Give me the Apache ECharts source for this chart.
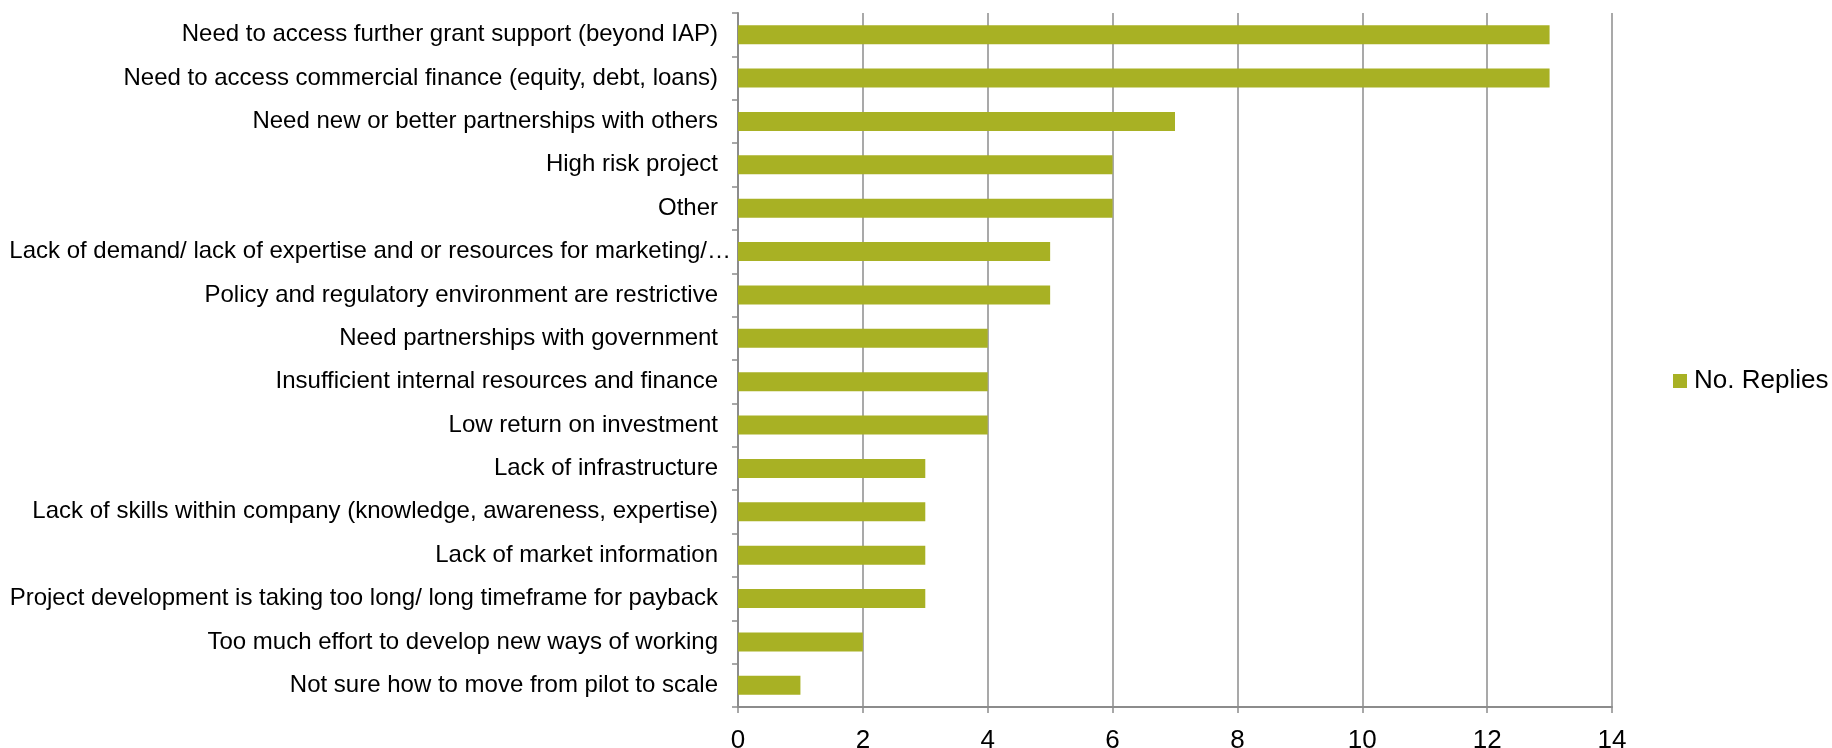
<!DOCTYPE html>
<html>
<head>
<meta charset="utf-8">
<script src="https://cdn.jsdelivr.net/npm/echarts@6/dist/echarts.min.js"></script>
<style>
  html, body { margin: 0; padding: 0; background: #fff; }
  #chart { width: 1832px; height: 748px; }
</style>
</head>
<body>
<div id="chart"></div>
<script>
// Barriers reported, listed top to bottom
const categories = [
  'Need to access further grant support (beyond IAP)',
  'Need to access commercial finance (equity, debt, loans)',
  'Need new or better partnerships with others',
  'High risk project',
  'Other',
  'Lack of demand/ lack of expertise and or resources for marketing/\u2026',
  'Policy and regulatory environment are restrictive',
  'Need partnerships with government',
  'Insufficient internal resources and finance',
  'Low return on investment',
  'Lack of infrastructure',
  'Lack of skills within company (knowledge, awareness, expertise)',
  'Lack of market information',
  'Project development is taking too long/ long timeframe for payback',
  'Too much effort to develop new ways of working',
  'Not sure how to move from pilot to scale'
];
const replies = [13, 13, 7, 6, 6, 5, 5, 4, 4, 4, 3, 3, 3, 3, 2, 1];
const seriesName = 'No. Replies';
const xTicks = { min: 0, max: 14, interval: 2 };

const chart = echarts.init(document.getElementById('chart'), null, { renderer: 'canvas' });
const FONT = '"Liberation Sans", Arial, sans-serif';
const AXIS_GREY = '#8c8c8c';
const BAR = '#a8b124';

// The truncated label runs right up to the axis line
const yData = categories.map(function (c) {
  return c.endsWith('\u2026')
    ? { value: c, textStyle: { padding: [0, -13, 0, 0] } }
    : c;
});

chart.setOption({
  animation: false,
  backgroundColor: '#ffffff',
  textStyle: { fontFamily: FONT },
  grid: {
    left: 738, right: 220, top: 13, bottom: 41,
    containLabel: false,
    outerBoundsMode: 'none'
  },
  legend: {
    data: [seriesName],
    orient: 'vertical',
    left: 1668,
    top: 363,
    itemWidth: 14,
    itemHeight: 14,
    itemGap: 6,
    icon: 'rect',
    textStyle: { fontFamily: FONT, fontSize: 26, color: '#000', padding: [0, 0, 0, 2] }
  },
  xAxis: {
    type: 'value',
    min: xTicks.min,
    max: xTicks.max,
    interval: xTicks.interval,
    axisLine: { show: true, lineStyle: { color: AXIS_GREY, width: 2 } },
    axisTick: { show: true, length: 6, lineStyle: { color: AXIS_GREY, width: 1.5 } },
    axisLabel: { fontFamily: FONT, fontSize: 26, color: '#000', margin: 21 },
    splitLine: { show: true, lineStyle: { color: AXIS_GREY, width: 1.5 } }
  },
  yAxis: {
    type: 'category',
    data: yData,
    inverse: true,
    axisLine: { show: true, lineStyle: { color: AXIS_GREY, width: 2 } },
    axisTick: { show: true, length: 6, alignWithLabel: false, lineStyle: { color: AXIS_GREY, width: 1.5 } },
    axisLabel: { fontFamily: FONT, fontSize: 24, color: '#000', margin: 20 },
    splitLine: { show: false }
  },
  series: [{
    name: seriesName,
    type: 'bar',
    data: replies,
    barWidth: '44%',
    itemStyle: { color: BAR }
  }]
});
</script>
</body>
</html>
